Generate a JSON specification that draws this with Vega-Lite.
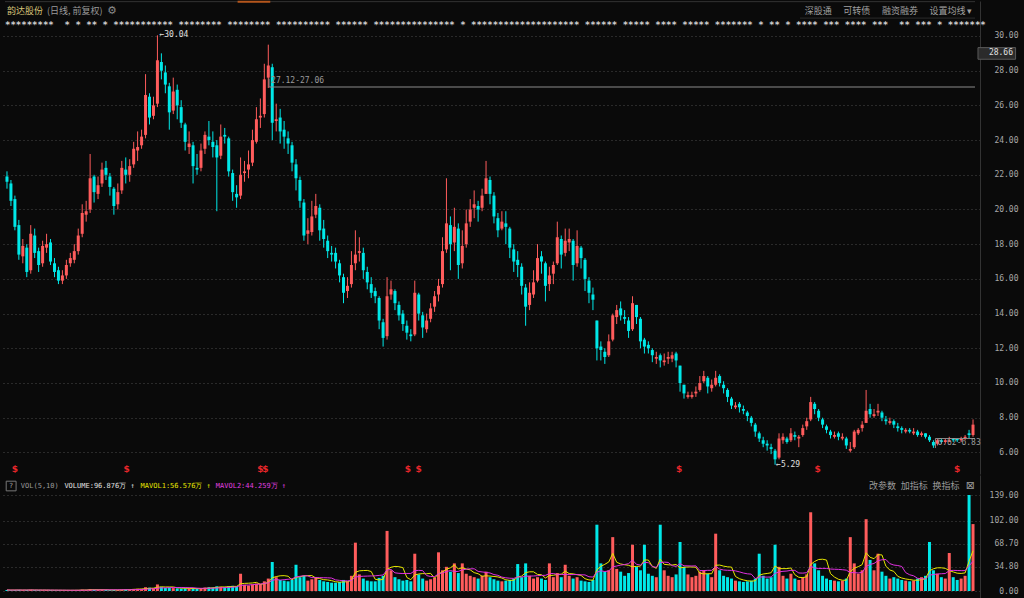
{
"$schema":"https://vega.github.io/schema/vega-lite/v6.json",
"background":"#0a0a0a",
"padding":0,
"spacing":0,
"config":{"view":{"stroke":null},"axis":{"labelFont":"DejaVu Sans Mono","labelFontSize":8,"labelColor":"#a8a8a8","labelOverlap":false,"gridColor":"#4a4a4a","gridDash":[1,3],"domainColor":"#333333","ticks":false,"title":null}},
"datasets":{"k":[
{"i":0,"o":21.9,"h":22.2,"l":21.2,"c":21.6,"v":1.5},{"i":1,"o":21.5,"h":21.7,"l":20.2,"c":20.5,"v":1.2},{"i":2,"o":20.6,"h":20.8,"l":18.8,"c":19.0,"v":1.4},{"i":3,"o":19.1,"h":19.4,"l":17.1,"c":17.4,"v":1.6},{"i":4,"o":17.3,"h":18.3,"l":16.9,"c":17.9,"v":1.2},
{"i":5,"o":17.8,"h":18.0,"l":16.1,"c":16.4,"v":1.4},{"i":6,"o":16.5,"h":19.1,"l":16.3,"c":18.6,"v":1.8},{"i":7,"o":18.5,"h":18.9,"l":17.2,"c":17.5,"v":1.3},{"i":8,"o":17.6,"h":17.8,"l":16.4,"c":16.8,"v":1.2},{"i":9,"o":16.9,"h":18.2,"l":16.7,"c":17.9,"v":1.1},
{"i":10,"o":17.8,"h":18.6,"l":17.5,"c":18.0,"v":1.3},{"i":11,"o":18.1,"h":18.3,"l":16.8,"c":17.0,"v":1.2},{"i":12,"o":16.9,"h":17.2,"l":16.1,"c":16.4,"v":1.0},{"i":13,"o":16.5,"h":16.7,"l":15.7,"c":15.9,"v":1.1},{"i":14,"o":15.9,"h":16.5,"l":15.7,"c":16.2,"v":0.9},
{"i":15,"o":16.2,"h":17.1,"l":16.0,"c":16.8,"v":1.1},{"i":16,"o":16.9,"h":17.5,"l":16.7,"c":17.2,"v":1.0},{"i":17,"o":17.1,"h":18.0,"l":16.9,"c":17.6,"v":1.2},{"i":18,"o":17.6,"h":18.9,"l":17.4,"c":18.5,"v":1.4},{"i":19,"o":18.6,"h":20.3,"l":18.4,"c":19.8,"v":2.0},
{"i":20,"o":19.7,"h":20.5,"l":19.3,"c":19.9,"v":1.6},{"i":21,"o":20.0,"h":23.2,"l":19.8,"c":21.8,"v":2.8},{"i":22,"o":21.9,"h":22.0,"l":20.4,"c":21.0,"v":1.9},{"i":23,"o":20.9,"h":21.9,"l":20.6,"c":21.4,"v":1.5},{"i":24,"o":21.5,"h":22.7,"l":21.3,"c":22.3,"v":1.7},
{"i":25,"o":22.4,"h":22.8,"l":21.7,"c":22.0,"v":1.5},{"i":26,"o":21.9,"h":22.1,"l":20.8,"c":21.3,"v":1.4},{"i":27,"o":21.2,"h":21.3,"l":19.7,"c":20.2,"v":1.6},{"i":28,"o":20.3,"h":21.5,"l":20.0,"c":21.0,"v":1.5},{"i":29,"o":21.1,"h":22.8,"l":20.9,"c":22.4,"v":2.1},
{"i":30,"o":22.3,"h":23.0,"l":21.5,"c":22.0,"v":2.6},{"i":31,"o":22.0,"h":22.9,"l":21.6,"c":22.5,"v":2.4},{"i":32,"o":22.6,"h":23.9,"l":22.4,"c":23.5,"v":3.0},{"i":33,"o":23.4,"h":24.5,"l":22.8,"c":23.6,"v":3.2},{"i":34,"o":23.7,"h":24.6,"l":23.5,"c":24.2,"v":3.1},
{"i":35,"o":24.3,"h":27.8,"l":24.1,"c":26.6,"v":5.5},{"i":36,"o":26.5,"h":26.7,"l":24.9,"c":25.3,"v":4.8},{"i":37,"o":25.4,"h":26.5,"l":25.2,"c":26.0,"v":4.2},{"i":38,"o":26.1,"h":30.04,"l":25.9,"c":28.6,"v":9.5},{"i":39,"o":28.5,"h":29.0,"l":27.5,"c":28.0,"v":6.0},
{"i":40,"o":27.9,"h":28.3,"l":26.7,"c":27.2,"v":4.6},{"i":41,"o":27.1,"h":27.3,"l":24.6,"c":25.6,"v":5.0},{"i":42,"o":25.7,"h":27.6,"l":25.5,"c":26.8,"v":4.2},{"i":43,"o":26.9,"h":27.2,"l":25.2,"c":26.0,"v":3.8},{"i":44,"o":25.9,"h":26.3,"l":24.7,"c":25.0,"v":3.5},
{"i":45,"o":24.9,"h":25.0,"l":23.4,"c":23.9,"v":3.9},{"i":46,"o":23.6,"h":24.5,"l":23.2,"c":23.8,"v":3.3},{"i":47,"o":23.7,"h":23.9,"l":21.5,"c":22.5,"v":3.8},{"i":48,"o":22.4,"h":23.2,"l":22.0,"c":22.3,"v":3.0},{"i":49,"o":22.4,"h":23.8,"l":22.2,"c":23.4,"v":3.6},
{"i":50,"o":23.5,"h":24.5,"l":23.2,"c":24.3,"v":5.0},{"i":51,"o":24.2,"h":25.1,"l":23.7,"c":24.0,"v":5.5},{"i":52,"o":23.9,"h":24.5,"l":23.0,"c":23.6,"v":5.2},{"i":53,"o":23.7,"h":24.0,"l":19.9,"c":23.0,"v":6.8},{"i":54,"o":23.1,"h":24.9,"l":22.9,"c":24.2,"v":6.2},
{"i":55,"o":24.3,"h":24.7,"l":23.8,"c":24.2,"v":5.8},{"i":56,"o":24.1,"h":24.2,"l":21.9,"c":22.2,"v":7.0},{"i":57,"o":22.1,"h":22.3,"l":20.5,"c":21.0,"v":7.5},{"i":58,"o":20.9,"h":21.4,"l":20.1,"c":20.7,"v":6.8},{"i":59,"o":20.8,"h":23.0,"l":20.6,"c":22.0,"v":25.0},
{"i":60,"o":22.1,"h":22.8,"l":21.6,"c":22.2,"v":9.0},{"i":61,"o":22.3,"h":23.4,"l":21.8,"c":22.6,"v":8.0},{"i":62,"o":22.7,"h":24.6,"l":22.5,"c":24.0,"v":9.5},{"i":63,"o":23.9,"h":25.9,"l":23.8,"c":25.2,"v":11.0},{"i":64,"o":25.3,"h":26.4,"l":24.7,"c":25.4,"v":10.5},
{"i":65,"o":25.5,"h":28.4,"l":25.3,"c":27.5,"v":14.0},{"i":66,"o":27.6,"h":29.5,"l":27.0,"c":28.3,"v":18.0},{"i":67,"o":28.2,"h":28.4,"l":24.0,"c":25.0,"v":42.0},{"i":68,"o":25.1,"h":26.1,"l":24.5,"c":25.2,"v":20.0},{"i":69,"o":25.3,"h":25.8,"l":23.8,"c":24.5,"v":16.0},
{"i":70,"o":24.6,"h":25.1,"l":23.5,"c":24.2,"v":15.0},{"i":71,"o":24.1,"h":24.5,"l":23.2,"c":23.8,"v":14.0},{"i":72,"o":23.7,"h":23.9,"l":22.2,"c":22.7,"v":16.0},{"i":73,"o":22.6,"h":22.9,"l":21.1,"c":21.8,"v":38.0},{"i":74,"o":21.7,"h":21.9,"l":20.1,"c":20.5,"v":20.0},
{"i":75,"o":20.4,"h":20.6,"l":18.2,"c":18.5,"v":22.0},{"i":76,"o":18.6,"h":19.5,"l":18.0,"c":18.8,"v":15.0},{"i":77,"o":18.7,"h":20.5,"l":18.5,"c":19.6,"v":17.0},{"i":78,"o":19.7,"h":20.9,"l":19.5,"c":20.2,"v":20.0},{"i":79,"o":20.1,"h":20.3,"l":18.2,"c":18.8,"v":16.0},
{"i":80,"o":18.9,"h":19.4,"l":17.8,"c":18.3,"v":14.0},{"i":81,"o":18.2,"h":18.5,"l":17.2,"c":17.6,"v":13.0},{"i":82,"o":17.5,"h":17.9,"l":17.0,"c":17.4,"v":12.0},{"i":83,"o":17.5,"h":17.8,"l":16.6,"c":17.0,"v":12.0},{"i":84,"o":16.9,"h":17.1,"l":15.8,"c":16.2,"v":13.0},
{"i":85,"o":16.1,"h":16.3,"l":14.6,"c":15.2,"v":16.0},{"i":86,"o":15.3,"h":16.1,"l":14.9,"c":15.6,"v":14.0},{"i":87,"o":15.7,"h":17.6,"l":15.5,"c":16.8,"v":22.0},{"i":88,"o":16.9,"h":18.8,"l":16.5,"c":17.4,"v":70.0},{"i":89,"o":17.5,"h":18.4,"l":17.0,"c":17.6,"v":24.0},
{"i":90,"o":17.5,"h":17.8,"l":16.0,"c":16.5,"v":18.0},{"i":91,"o":16.4,"h":16.7,"l":15.4,"c":15.8,"v":15.0},{"i":92,"o":15.7,"h":16.1,"l":14.9,"c":15.2,"v":14.0},{"i":93,"o":15.3,"h":15.5,"l":14.6,"c":15.0,"v":14.0},{"i":94,"o":14.9,"h":15.0,"l":13.1,"c":13.6,"v":19.0},
{"i":95,"o":13.5,"h":13.7,"l":12.1,"c":12.6,"v":22.0},{"i":96,"o":12.7,"h":16.1,"l":12.5,"c":15.0,"v":87.0},{"i":97,"o":15.1,"h":15.9,"l":14.8,"c":15.4,"v":30.0},{"i":98,"o":15.3,"h":15.4,"l":14.2,"c":14.6,"v":20.0},{"i":99,"o":14.5,"h":14.7,"l":13.6,"c":13.9,"v":17.0},
{"i":100,"o":14.0,"h":14.2,"l":13.0,"c":13.4,"v":15.0},{"i":101,"o":13.3,"h":13.6,"l":12.5,"c":12.9,"v":16.0},{"i":102,"o":12.8,"h":13.1,"l":12.4,"c":12.7,"v":14.0},{"i":103,"o":12.8,"h":15.9,"l":12.7,"c":15.2,"v":54.0},{"i":104,"o":15.1,"h":15.2,"l":13.6,"c":14.0,"v":24.0},
{"i":105,"o":13.9,"h":14.1,"l":12.6,"c":13.2,"v":18.0},{"i":106,"o":13.1,"h":14.0,"l":12.9,"c":13.6,"v":15.0},{"i":107,"o":13.7,"h":14.6,"l":13.5,"c":14.3,"v":17.0},{"i":108,"o":14.4,"h":15.3,"l":14.1,"c":15.0,"v":19.0},{"i":109,"o":15.1,"h":16.0,"l":14.7,"c":15.6,"v":56.0},
{"i":110,"o":15.7,"h":18.4,"l":15.5,"c":17.6,"v":30.0},{"i":111,"o":17.7,"h":21.8,"l":17.5,"c":19.2,"v":35.0},{"i":112,"o":19.1,"h":19.6,"l":16.5,"c":18.0,"v":28.0},{"i":113,"o":18.1,"h":20.1,"l":17.6,"c":19.0,"v":40.0},{"i":114,"o":18.9,"h":19.2,"l":16.0,"c":16.8,"v":26.0},
{"i":115,"o":16.9,"h":18.8,"l":16.6,"c":17.9,"v":40.0},{"i":116,"o":18.0,"h":20.0,"l":17.8,"c":19.2,"v":25.0},{"i":117,"o":19.3,"h":20.6,"l":19.0,"c":20.0,"v":22.0},{"i":118,"o":20.1,"h":21.1,"l":19.5,"c":20.3,"v":20.0},{"i":119,"o":20.2,"h":20.5,"l":19.3,"c":20.0,"v":18.0},
{"i":120,"o":20.1,"h":21.2,"l":19.9,"c":20.8,"v":22.0},{"i":121,"o":20.9,"h":22.8,"l":20.9,"c":21.8,"v":28.0},{"i":122,"o":21.7,"h":21.9,"l":20.3,"c":20.9,"v":20.0},{"i":123,"o":20.8,"h":21.0,"l":19.2,"c":19.6,"v":17.0},{"i":124,"o":19.5,"h":19.8,"l":18.4,"c":18.8,"v":15.0},
{"i":125,"o":18.9,"h":19.9,"l":18.8,"c":19.3,"v":14.0},{"i":126,"o":19.2,"h":19.9,"l":18.0,"c":19.0,"v":15.0},{"i":127,"o":18.9,"h":19.0,"l":17.2,"c":17.8,"v":16.0},{"i":128,"o":17.7,"h":18.0,"l":16.4,"c":17.0,"v":18.0},{"i":129,"o":17.1,"h":17.6,"l":16.1,"c":16.8,"v":39.0},
{"i":130,"o":16.7,"h":16.9,"l":15.1,"c":15.6,"v":20.0},{"i":131,"o":15.5,"h":15.7,"l":13.3,"c":14.4,"v":40.0},{"i":132,"o":14.5,"h":15.8,"l":14.2,"c":15.2,"v":22.0},{"i":133,"o":15.1,"h":16.5,"l":14.9,"c":15.8,"v":18.0},{"i":134,"o":15.9,"h":18.0,"l":15.8,"c":17.2,"v":20.0},
{"i":135,"o":17.3,"h":17.6,"l":16.3,"c":17.0,"v":18.0},{"i":136,"o":16.9,"h":17.0,"l":14.7,"c":15.6,"v":16.0},{"i":137,"o":15.7,"h":16.7,"l":15.3,"c":16.2,"v":40.0},{"i":138,"o":16.3,"h":17.0,"l":15.7,"c":16.8,"v":20.0},{"i":139,"o":16.9,"h":19.3,"l":16.8,"c":18.4,"v":26.0},
{"i":140,"o":18.3,"h":18.5,"l":16.6,"c":17.4,"v":20.0},{"i":141,"o":17.5,"h":18.9,"l":17.3,"c":18.2,"v":38.0},{"i":142,"o":18.1,"h":18.9,"l":17.6,"c":18.3,"v":22.0},{"i":143,"o":18.2,"h":18.3,"l":15.9,"c":16.8,"v":18.0},{"i":144,"o":16.9,"h":18.8,"l":16.7,"c":17.9,"v":20.0},
{"i":145,"o":17.8,"h":17.9,"l":16.6,"c":17.2,"v":15.0},{"i":146,"o":17.1,"h":17.2,"l":15.3,"c":16.0,"v":14.0},{"i":147,"o":15.9,"h":16.1,"l":14.6,"c":15.2,"v":13.0},{"i":148,"o":15.1,"h":15.5,"l":14.2,"c":14.8,"v":16.0},{"i":149,"o":13.6,"h":13.6,"l":11.3,"c":12.0,"v":96.0},
{"i":150,"o":12.1,"h":12.4,"l":11.3,"c":11.9,"v":40.0},{"i":151,"o":11.8,"h":12.0,"l":11.1,"c":11.5,"v":28.0},{"i":152,"o":11.6,"h":12.8,"l":11.5,"c":12.4,"v":30.0},{"i":153,"o":12.5,"h":14.0,"l":12.4,"c":13.9,"v":78.0},{"i":154,"o":13.8,"h":14.5,"l":13.4,"c":14.2,"v":32.0},
{"i":155,"o":14.3,"h":14.7,"l":13.6,"c":13.9,"v":28.0},{"i":156,"o":13.8,"h":14.2,"l":13.4,"c":13.7,"v":22.0},{"i":157,"o":13.6,"h":13.8,"l":12.6,"c":13.0,"v":26.0},{"i":158,"o":13.1,"h":15.0,"l":13.0,"c":14.6,"v":67.0},{"i":159,"o":14.5,"h":14.5,"l":13.4,"c":13.8,"v":35.0},
{"i":160,"o":13.7,"h":13.8,"l":12.0,"c":12.4,"v":30.0},{"i":161,"o":12.5,"h":12.6,"l":11.7,"c":12.1,"v":67.0},{"i":162,"o":12.2,"h":12.4,"l":11.7,"c":12.0,"v":25.0},{"i":163,"o":11.9,"h":12.0,"l":11.2,"c":11.6,"v":22.0},{"i":164,"o":11.4,"h":11.8,"l":11.1,"c":11.5,"v":20.0},
{"i":165,"o":11.6,"h":11.7,"l":10.9,"c":11.3,"v":96.0},{"i":166,"o":11.2,"h":11.7,"l":11.0,"c":11.3,"v":30.0},{"i":167,"o":11.4,"h":11.8,"l":11.1,"c":11.5,"v":22.0},{"i":168,"o":11.4,"h":11.8,"l":11.2,"c":11.6,"v":20.0},{"i":169,"o":11.7,"h":11.8,"l":10.9,"c":11.3,"v":24.0},
{"i":170,"o":11.0,"h":11.0,"l":9.5,"c":10.0,"v":71.0},{"i":171,"o":9.9,"h":9.9,"l":9.1,"c":9.4,"v":35.0},{"i":172,"o":9.2,"h":9.5,"l":9.1,"c":9.3,"v":24.0},{"i":173,"o":9.2,"h":9.5,"l":9.1,"c":9.3,"v":20.0},{"i":174,"o":9.4,"h":9.8,"l":9.2,"c":9.5,"v":22.0},
{"i":175,"o":9.6,"h":10.4,"l":9.5,"c":10.0,"v":28.0},{"i":176,"o":10.1,"h":10.7,"l":10.0,"c":10.4,"v":30.0},{"i":177,"o":10.3,"h":10.4,"l":9.4,"c":9.8,"v":25.0},{"i":178,"o":9.7,"h":10.2,"l":9.5,"c":9.9,"v":20.0},{"i":179,"o":9.9,"h":10.7,"l":9.8,"c":10.3,"v":83.0},
{"i":180,"o":10.4,"h":10.5,"l":9.8,"c":10.0,"v":30.0},{"i":181,"o":9.9,"h":10.1,"l":9.4,"c":9.7,"v":22.0},{"i":182,"o":9.6,"h":9.7,"l":8.9,"c":9.2,"v":20.0},{"i":183,"o":9.1,"h":9.2,"l":8.5,"c":8.7,"v":18.0},{"i":184,"o":8.6,"h":8.9,"l":8.5,"c":8.7,"v":15.0},
{"i":185,"o":8.8,"h":8.9,"l":8.3,"c":8.6,"v":14.0},{"i":186,"o":8.5,"h":8.7,"l":8.2,"c":8.4,"v":13.0},{"i":187,"o":8.3,"h":8.4,"l":7.8,"c":8.1,"v":14.0},{"i":188,"o":8.0,"h":8.1,"l":7.5,"c":7.7,"v":15.0},{"i":189,"o":7.6,"h":7.7,"l":6.9,"c":7.2,"v":18.0},
{"i":190,"o":7.1,"h":7.2,"l":6.6,"c":6.8,"v":54.0},{"i":191,"o":6.7,"h":6.9,"l":6.3,"c":6.5,"v":22.0},{"i":192,"o":6.5,"h":6.7,"l":6.1,"c":6.4,"v":18.0},{"i":193,"o":6.3,"h":6.5,"l":5.9,"c":6.2,"v":20.0},{"i":194,"o":6.1,"h":6.2,"l":5.29,"c":5.6,"v":67.0},
{"i":195,"o":5.7,"h":7.1,"l":5.6,"c":6.8,"v":35.0},{"i":196,"o":6.7,"h":7.1,"l":6.5,"c":6.9,"v":22.0},{"i":197,"o":6.8,"h":6.9,"l":6.5,"c":6.6,"v":18.0},{"i":198,"o":6.7,"h":7.4,"l":6.6,"c":7.1,"v":25.0},{"i":199,"o":7.0,"h":7.2,"l":6.7,"c":6.9,"v":18.0},
{"i":200,"o":6.8,"h":7.0,"l":6.3,"c":6.9,"v":16.0},{"i":201,"o":7.0,"h":7.6,"l":6.9,"c":7.4,"v":20.0},{"i":202,"o":7.5,"h":8.0,"l":7.3,"c":7.8,"v":24.0},{"i":203,"o":7.9,"h":9.2,"l":7.8,"c":8.9,"v":114.0},{"i":204,"o":8.8,"h":8.9,"l":8.2,"c":8.5,"v":40.0},
{"i":205,"o":8.4,"h":8.5,"l":7.8,"c":8.0,"v":30.0},{"i":206,"o":7.9,"h":8.0,"l":7.4,"c":7.6,"v":22.0},{"i":207,"o":7.5,"h":7.6,"l":7.1,"c":7.3,"v":18.0},{"i":208,"o":7.2,"h":7.3,"l":6.8,"c":7.0,"v":16.0},{"i":209,"o":6.9,"h":7.2,"l":6.8,"c":7.0,"v":15.0},
{"i":210,"o":7.1,"h":7.2,"l":6.7,"c":6.9,"v":14.0},{"i":211,"o":6.8,"h":7.1,"l":6.7,"c":6.9,"v":15.0},{"i":212,"o":6.8,"h":6.9,"l":6.2,"c":6.4,"v":18.0},{"i":213,"o":6.1,"h":6.6,"l":6.0,"c":6.2,"v":78.0},{"i":214,"o":6.3,"h":7.3,"l":6.2,"c":7.2,"v":40.0},
{"i":215,"o":7.1,"h":7.4,"l":7.0,"c":7.3,"v":25.0},{"i":216,"o":7.4,"h":7.8,"l":7.2,"c":7.6,"v":30.0},{"i":217,"o":7.7,"h":9.6,"l":7.7,"c":8.4,"v":104.0},{"i":218,"o":8.5,"h":8.8,"l":8.0,"c":8.2,"v":45.0},{"i":219,"o":8.1,"h":8.5,"l":8.0,"c":8.2,"v":30.0},
{"i":220,"o":8.3,"h":8.8,"l":8.1,"c":8.4,"v":54.0},{"i":221,"o":8.3,"h":8.4,"l":7.8,"c":8.0,"v":28.0},{"i":222,"o":7.9,"h":8.1,"l":7.6,"c":7.8,"v":22.0},{"i":223,"o":7.7,"h":8.0,"l":7.6,"c":7.8,"v":18.0},{"i":224,"o":7.8,"h":7.9,"l":7.4,"c":7.6,"v":20.0},
{"i":225,"o":7.5,"h":7.7,"l":7.2,"c":7.4,"v":18.0},{"i":226,"o":7.4,"h":7.5,"l":7.1,"c":7.3,"v":16.0},{"i":227,"o":7.2,"h":7.4,"l":7.1,"c":7.3,"v":15.0},{"i":228,"o":7.3,"h":7.4,"l":7.1,"c":7.2,"v":14.0},{"i":229,"o":7.1,"h":7.4,"l":7.0,"c":7.2,"v":15.0},
{"i":230,"o":7.2,"h":7.3,"l":6.9,"c":7.0,"v":18.0},{"i":231,"o":7.0,"h":7.2,"l":6.9,"c":7.1,"v":20.0},{"i":232,"o":7.1,"h":7.1,"l":6.8,"c":6.9,"v":22.0},{"i":233,"o":6.9,"h":7.0,"l":6.6,"c":6.7,"v":71.0},{"i":234,"o":6.6,"h":6.7,"l":6.26,"c":6.4,"v":30.0},
{"i":235,"o":6.5,"h":6.8,"l":6.4,"c":6.7,"v":25.0},{"i":236,"o":6.7,"h":6.8,"l":6.5,"c":6.6,"v":20.0},{"i":237,"o":6.6,"h":6.8,"l":6.5,"c":6.7,"v":18.0},{"i":238,"o":6.6,"h":6.9,"l":6.6,"c":6.7,"v":55.0},{"i":239,"o":6.8,"h":6.8,"l":6.6,"c":6.7,"v":20.0},
{"i":240,"o":6.8,"h":6.8,"l":6.6,"c":6.7,"v":16.0},{"i":241,"o":6.7,"h":6.9,"l":6.6,"c":6.8,"v":18.0},{"i":242,"o":6.8,"h":7.0,"l":6.7,"c":6.9,"v":22.0},{"i":243,"o":7.1,"h":7.3,"l":6.8,"c":7.0,"v":139.0},{"i":244,"o":7.0,"h":7.9,"l":6.9,"c":7.6,"v":96.9}
]},
"vconcat":[
{
"width":980,"height":473,
"data":{"name":"k"},
"layer":[
{"mark":{"type":"rule","strokeWidth":1},
 "encoding":{
  "x":{"field":"i","type":"quantitative","scale":{"domain":[-0.5,244.5],"nice":false,"zero":false},"axis":null},
  "y":{"field":"l","type":"quantitative","scale":{"domain":[4.755,32.017],"nice":false,"zero":false},
       "axis":{"orient":"right","values":[6,8,10,12,14,16,18,20,22,24,26,28,30],"tickCount":40,"format":".2f","grid":true,"labelAlign":"right","labelPadding":38,"labelOverlap":false,"labelBound":false,"labelFlush":false,"minExtent":44,"maxExtent":44,"domain":true}},
  "y2":{"field":"h"},
  "color":{"condition":{"test":"datum.c >= datum.o","value":"#ff5c5c"},"value":"#00e8e8"}}},
{"mark":{"type":"bar","size":3},
 "encoding":{
  "x":{"field":"i","type":"quantitative"},
  "y":{"field":"o","type":"quantitative"},
  "y2":{"field":"c"},
  "color":{"condition":{"test":"datum.c >= datum.o","value":"#ff5c5c"},"value":"#00e8e8"}}},
{"data":{"values":[{}]},"mark":{"type":"rule","color":"#333333","strokeWidth":1},
 "encoding":{"x":{"datum":-0.5},"x2":{"datum":244.5},"y":{"datum":31.98}}},
{"data":{"values":[{}]},"mark":{"type":"rule","color":"#b5561c","strokeWidth":2},
 "encoding":{"x":{"datum":58.25},"x2":{"datum":66.5},"y":{"datum":31.98}}},
{"data":{"values":[{}]},"mark":{"type":"rule","color":"#2c2c2c","strokeWidth":1},
 "encoding":{"x":{"datum":200.3},"x2":{"datum":244.5},"y":{"datum":31.03}}},
{"data":{"values":[{}]},"mark":{"type":"text","align":"left","baseline":"middle","font":"Noto Sans CJK SC","fontSize":9,"color":"#d9c77a","dx":2},
 "encoding":{"x":{"datum":-0.5},"y":{"datum":31.44},"text":{"value":"韵达股份"}}},
{"data":{"values":[{}]},"mark":{"type":"text","align":"left","baseline":"middle","font":"Noto Sans CJK SC","fontSize":9,"color":"#9a9a9a","dx":42},
 "encoding":{"x":{"datum":-0.5},"y":{"datum":31.44},"text":{"value":"(日线, 前复权)"}}},
{"data":{"values":[{}]},"mark":{"type":"text","align":"center","baseline":"middle","font":"DejaVu Sans","fontSize":11,"color":"#8a8a8a"},
 "encoding":{"x":{"datum":26.5},"y":{"datum":31.44},"text":{"value":"⚙"}}},
{"data":{"values":[{"t":"深股通","x":201.5},{"t":"可转债","x":211.25},{"t":"融资融券","x":221},{"t":"设置均线 ▾","x":233}]},
 "mark":{"type":"text","align":"left","baseline":"middle","font":"Noto Sans CJK SC","fontSize":9,"color":"#a0a0a0"},
 "encoding":{"x":{"field":"x","type":"quantitative"},"y":{"datum":31.44},"text":{"field":"t"}}},
{"data":{"values":[{}]},"mark":{"type":"text","align":"left","baseline":"middle","font":"DejaVu Sans Mono","fontWeight":"bold","fontSize":9,"color":"#d0d0d0","dy":2},
 "encoding":{"x":{"datum":-0.5},"y":{"datum":30.75},"text":{"value":"*********\u00a0\u00a0*\u00a0*\u00a0**\u00a0*\u00a0***********\u00a0********\u00a0********\u00a0**********\u00a0******\u00a0***************\u00a0*\u00a0********************\u00a0******\u00a0*****\u00a0****\u00a0*****\u00a0*******\u00a0*\u00a0**\u00a0*\u00a0****\u00a0***\u00a0****\u00a0***\u00a0\u00a0**\u00a0***\u00a0*\u00a0*******"}}},
{"data":{"values":[{}]},"mark":{"type":"text","align":"left","baseline":"middle","font":"DejaVu Sans Mono","fontSize":8,"color":"#e0e0e0","dx":2},
 "encoding":{"x":{"datum":38},"y":{"datum":30.04},"text":{"value":"←30.04"}}},
{"data":{"values":[{}]},"mark":{"type":"text","align":"left","baseline":"middle","font":"DejaVu Sans Mono","fontSize":8,"color":"#e0e0e0","dx":1},
 "encoding":{"x":{"datum":194},"y":{"datum":5.29},"text":{"value":"←5.29"}}},
{"data":{"values":[{}]},"mark":{"type":"rule","color":"#8a8a8a","strokeWidth":1},
 "encoding":{"x":{"datum":66.2},"x2":{"datum":244.5},"y":{"datum":27.06}}},
{"data":{"values":[{}]},"mark":{"type":"rule","color":"#8a8a8a","strokeWidth":1},
 "encoding":{"x":{"datum":66.2},"y":{"datum":27.06},"y2":{"datum":27.55}}},
{"data":{"values":[{}]},"mark":{"type":"text","align":"left","baseline":"middle","font":"DejaVu Sans Mono","fontSize":8,"color":"#9a9a9a","dx":2},
 "encoding":{"x":{"datum":66.2},"y":{"datum":27.41},"text":{"value":"27.12-27.06"}}},
{"data":{"values":[{}]},"mark":{"type":"rule","color":"#8a8a8a","strokeWidth":1},
 "encoding":{"x":{"datum":234.5},"x2":{"datum":244.5},"y":{"datum":6.8}}},
{"data":{"values":[{}]},"mark":{"type":"rule","color":"#8a8a8a","strokeWidth":1},
 "encoding":{"x":{"datum":234.5},"y":{"datum":6.8},"y2":{"datum":6.25}}},
{"data":{"values":[{}]},"mark":{"type":"text","align":"left","baseline":"middle","font":"DejaVu Sans Mono","fontSize":8,"color":"#9a9a9a","dx":2},
 "encoding":{"x":{"datum":234.5},"y":{"datum":6.52},"text":{"value":"6.62-6.83"}}},
{"data":{"values":[{"i":2},{"i":30.25},{"i":64},{"i":65.25},{"i":101.25},{"i":104},{"i":169.75},{"i":204.75},{"i":240}]},
 "mark":{"type":"text","align":"center","baseline":"middle","font":"DejaVu Sans","fontWeight":"bold","fontSize":9,"color":"#e8262a"},
 "encoding":{"x":{"field":"i","type":"quantitative"},"y":{"datum":5.04},"text":{"value":"$"}}},
{"data":{"values":[{}]},"mark":{"type":"rect","fill":"#2b2b2b","stroke":"#5a5a5a","strokeWidth":1},
 "encoding":{"x":{"datum":245.25},"x2":{"datum":254.75},"y":{"datum":29.33},"y2":{"datum":28.66}}},
{"data":{"values":[{}]},"mark":{"type":"text","align":"right","baseline":"middle","font":"DejaVu Sans Mono","fontSize":8,"color":"#e0e0e0"},
 "encoding":{"x":{"datum":254.1},"y":{"datum":29.0},"text":{"value":"28.66"}}}
]
},
{
"width":980,"height":125,
"data":{"name":"k"},
"layer":[
{"mark":{"type":"bar","size":3},
 "encoding":{
  "x":{"field":"i","type":"quantitative","scale":{"domain":[-0.5,244.5],"nice":false,"zero":false},"axis":null},
  "y":{"field":"v","type":"quantitative","scale":{"domain":[-13.03,167.96],"nice":false,"zero":false},
       "axis":{"orient":"right","values":[0,34.8,68.7,102,139],"tickCount":20,"format":".2f","grid":true,"labelAlign":"right","labelPadding":38,"labelOverlap":false,"labelBound":false,"labelFlush":false,"minExtent":44,"maxExtent":44,"domain":true}},
  "y2":{"datum":0},
  "color":{"condition":{"test":"datum.c >= datum.o","value":"#ff5c5c"},"value":"#00e8e8"}}},
{"transform":[{"window":[{"op":"mean","field":"v","as":"m5"}],"frame":[-4,0],"sort":[{"field":"i","order":"ascending"}]}],
 "mark":{"type":"line","color":"#e6e600","strokeWidth":1},
 "encoding":{"x":{"field":"i","type":"quantitative"},"y":{"field":"m5","type":"quantitative"}}},
{"transform":[{"window":[{"op":"mean","field":"v","as":"m10"}],"frame":[-9,0],"sort":[{"field":"i","order":"ascending"}]}],
 "mark":{"type":"line","color":"#e030e0","strokeWidth":1},
 "encoding":{"x":{"field":"i","type":"quantitative"},"y":{"field":"m10","type":"quantitative"}}},
{"data":{"values":[{}]},"mark":{"type":"rect","fillOpacity":0,"stroke":"#777777","strokeWidth":1},
 "encoding":{"x":{"datum":-0.2},"x2":{"datum":2.3},"y":{"datum":159},"y2":{"datum":145}}},
{"data":{"values":[{}]},"mark":{"type":"text","align":"center","baseline":"middle","font":"DejaVu Sans Mono","fontSize":7,"color":"#aaaaaa"},
 "encoding":{"x":{"datum":1.05},"y":{"datum":152},"text":{"value":"?"}}},
{"data":{"values":[{"t":"VOL(5,10)","x":3.5,"c":"#9a9a9a"},{"t":"VOLUME:96.876万 ↑","x":14.5,"c":"#e0e0e0"},{"t":"MAVOL1:56.576万 ↑","x":33.75,"c":"#e6e600"},{"t":"MAVOL2:44.259万 ↑","x":52.75,"c":"#e040e0"}]},
 "mark":{"type":"text","align":"left","baseline":"middle","font":"DejaVu Sans Mono","fontSize":7},
 "encoding":{"x":{"field":"x","type":"quantitative"},"y":{"datum":152},"text":{"field":"t"},"color":{"field":"c","type":"nominal","scale":null}}},
{"data":{"values":[{"t":"改参数","x":217.75},{"t":"加指标","x":225.75},{"t":"换指标","x":233.75}]},
 "mark":{"type":"text","align":"left","baseline":"middle","font":"Noto Sans CJK SC","fontSize":9,"color":"#9a9a9a"},
 "encoding":{"x":{"field":"x","type":"quantitative"},"y":{"datum":152},"text":{"field":"t"}}},
{"data":{"values":[{}]},"mark":{"type":"text","align":"center","baseline":"middle","font":"DejaVu Sans","fontSize":11,"color":"#9a9a9a"},
 "encoding":{"x":{"datum":243.3},"y":{"datum":152},"text":{"value":"⊠"}}}
]
}
]
}
